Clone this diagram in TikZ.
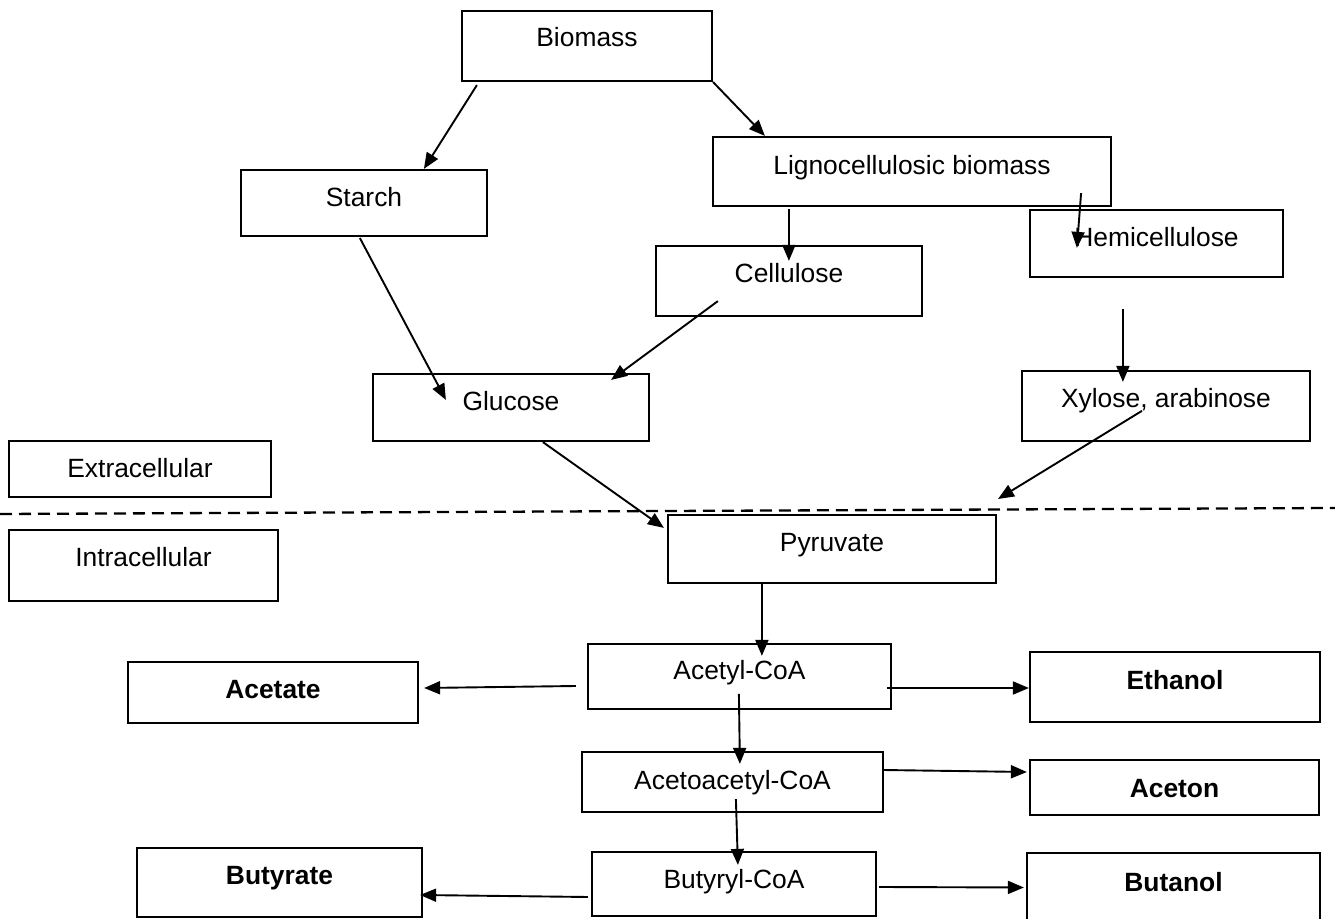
\documentclass[tikz,border=0pt]{standalone}
\usepackage{fontspec}
\setmainfont{Liberation Sans}
\usetikzlibrary{arrows.meta}

\begin{document}
\begin{tikzpicture}[x=0.5pt,y=-0.5pt,>={Triangle[length=8pt,width=6.5pt]},
  font=\fontsize{13.2}{16}\selectfont,
  box/.style={draw,rectangle,line width=1.1pt,inner sep=0pt,text height=10pt},
  prod/.style={box,font=\fontsize{13.2}{16}\selectfont\bfseries},
  flow/.style={->,line width=0.95pt}]
  \useasboundingbox (0,0) rectangle (1335,919);

  % sources
  \node[box,minimum width=125pt,minimum height=35pt,text depth=9.7pt] (bio) at (587,46) {Biomass};
  \node[box,minimum width=123pt,minimum height=33pt,text depth=6.7pt] (starch) at (364,203) {Starch};
  \node[box,minimum width=199pt,minimum height=34.5pt,text depth=7.2pt] (ligno) at (912,171.5) {Lignocellulosic biomass};
  \node[box,minimum width=126.5pt,minimum height=33.5pt,text depth=7.2pt] (hemi) at (1156.5,243.5) {Hemicellulose};
  \node[box,minimum width=133pt,minimum height=35pt,text depth=8.7pt] (cell) at (789,281) {Cellulose};
  \node[box,minimum width=138pt,minimum height=33.5pt,text depth=7.2pt] (gluc) at (511,407.5) {Glucose};
  \node[box,minimum width=144pt,minimum height=35pt,text depth=8.7pt] (xyl) at (1166,406) {Xylose, arabinose};

  % compartments
  \node[box,minimum width=131pt,minimum height=28pt,text depth=1.7pt] (extra) at (140,469) {Extracellular};
  \node[box,minimum width=134.5pt,minimum height=35.5pt,text depth=9.2pt] (intra) at (143.5,565.5) {Intracellular};
  \coordinate (memL) at (0,514);
  \coordinate (memR) at (1335,508);
  \coordinate (mem) at (998,499);
  \draw[line width=1.15pt,dash pattern=on 6pt off 3.5pt] (memL) -- (memR);

  % metabolism
  \node[box,minimum width=164pt,minimum height=34pt,text depth=7.7pt] (pyr) at (832,549) {Pyruvate};
  \node[box,minimum width=151.5pt,minimum height=32.5pt,text depth=7.2pt] (acoa) at (739.5,676.5) {Acetyl-CoA};
  \node[box,minimum width=150.5pt,minimum height=30pt,text depth=2.7pt] (aaco) at (732.5,782) {Acetoacetyl-CoA};
  \node[box,minimum width=142pt,minimum height=32pt,text depth=5.7pt] (bcoa) at (734,884) {Butyryl-CoA};

  % products
  \node[prod,minimum width=145pt,minimum height=30.5pt,text depth=4.2pt] (acet) at (273,692.5) {Acetate};
  \node[prod,minimum width=145pt,minimum height=35pt,text depth=7.7pt] (eth) at (1175,687) {Ethanol};
  \node[prod,minimum width=144.5pt,minimum height=27.5pt,text depth=0.2pt] (acn) at (1174.5,787.5) {Aceton};
  \node[prod,minimum width=142.5pt,minimum height=34.5pt,text depth=8.2pt] (buty) at (279.5,882.5) {Butyrate};
  \node[prod,minimum width=146.5pt,minimum height=34.5pt,text depth=6.2pt] (buta) at (1173.5,887.5) {Butanol};

  \path[flow]
    ([shift={(16,3)}]bio.south west) edge ([shift={(184,0)}]starch.north west)
    (bio.south east) edge ([shift={(53,0)}]ligno.north west)
    ([shift={(77,2)}]ligno.south west) edge ([shift={(134,16)}]cell.north west)
    ([shift={(-31,-14)}]ligno.south east) edge ([shift={(48,39)}]hemi.north west)
    ([shift={(120,1)}]starch.south west) edge ([shift={(74,27)}]gluc.north west)
    ([shift={(63,-16)}]cell.south west) edge ([shift={(-39,7)}]gluc.north east)
    ([shift={(94,31)}]hemi.south west) edge ([shift={(102,12)}]xyl.north west)
    ([shift={(171,0)}]gluc.south west) edge ([shift={(-3,14)}]pyr.north west)
    ([shift={(121,41)}]xyl.north west) edge (mem)
    ([shift={(95,0)}]pyr.south west) edge ([shift={(175,13)}]acoa.north west)
    ([shift={(-11,9.5)}]acoa.west) edge ([shift={(5,-4.5)}]acet.east)
    ([shift={(-5,11.5)}]acoa.east) edge ([shift={(0,1)}]eth.west)
    ([shift={(152,51)}]acoa.north west) edge ([shift={(159,13)}]aaco.north west)
    ([shift={(-1,-12)}]aaco.east) edge ([shift={(-2,-15.5)}]acn.west)
    ([shift={(155,-14)}]aaco.south west) edge ([shift={(147,14)}]bcoa.north west)
    ([shift={(-3,13)}]bcoa.west) edge ([shift={(-3,12.5)}]buty.east)
    ([shift={(2,3)}]bcoa.east) edge ([shift={(-2,0)}]buta.west);
\end{tikzpicture}
\end{document}
